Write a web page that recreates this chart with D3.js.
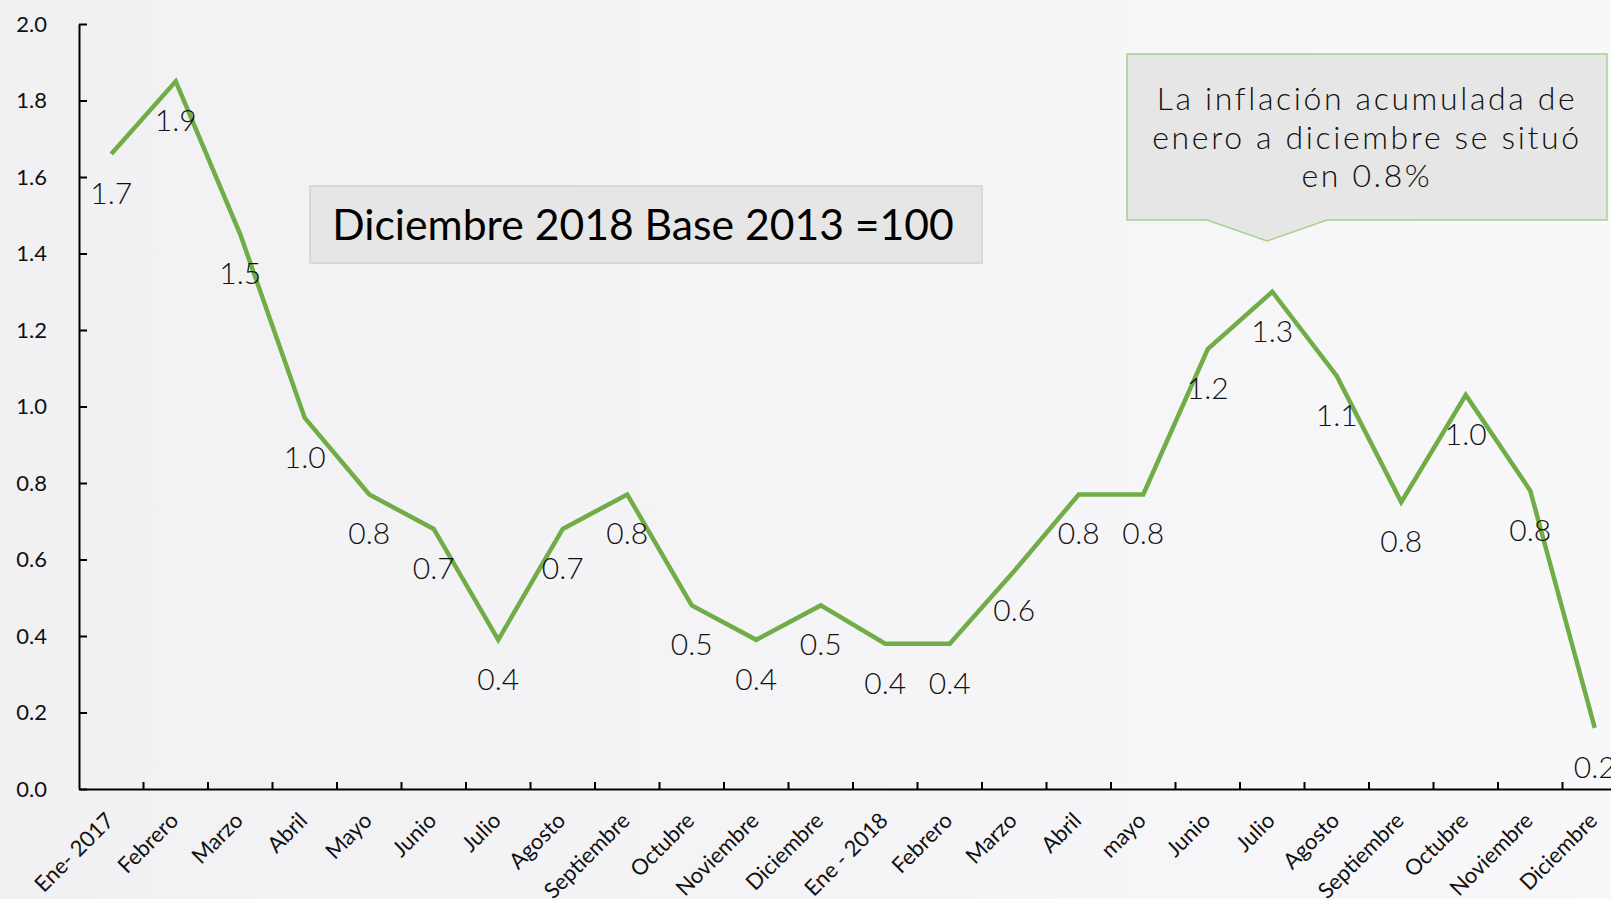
<!DOCTYPE html>
<html><head><meta charset="utf-8">
<script src="https://cdn.jsdelivr.net/npm/d3@7"></script>
<style>body{margin:0;background:#f3f3f5;overflow:hidden}</style>
</head><body><svg id="c" width="1611" height="899"></svg>
<script>
const categories = ["Ene- 2017","Febrero","Marzo","Abril","Mayo","Junio","Julio","Agosto","Septiembre","Octubre","Noviembre","Diciembre","Ene - 2018","Febrero","Marzo","Abril","mayo","Junio","Julio","Agosto","Septiembre","Octubre","Noviembre","Diciembre"];
const values = [1.66,1.85,1.45,0.97,0.77,0.68,0.39,0.68,0.77,0.48,0.39,0.48,0.38,0.38,0.57,0.77,0.77,1.15,1.30,1.08,0.75,1.03,0.78,0.16];
const dataLabels = ["1.7","1.9","1.5","1.0","0.8","0.7","0.4","0.7","0.8","0.5","0.4","0.5","0.4","0.4","0.6","0.8","0.8","1.2","1.3","1.1","0.8","1.0","0.8","0.2"];
const yTicks = [0,0.2,0.4,0.6,0.8,1.0,1.2,1.4,1.6,1.8,2.0];
const titleText = "Diciembre 2018 Base 2013 =100";
const calloutLines = ["La inflación acumulada de","enero a diciembre se situó","en 0.8%"];

const svg = d3.select("#c");
const defs = svg.append("defs");
const grad = defs.append("linearGradient").attr("id","bg").attr("x1","0").attr("x2","1").attr("y1","0").attr("y2","0");
grad.append("stop").attr("offset","0").attr("stop-color","#f1f1f3");
grad.append("stop").attr("offset","1").attr("stop-color","#f8f8fa");
svg.append("rect").attr("width",1611).attr("height",899).attr("fill","url(#bg)");

const idx = categories.map((d,i)=>i);
const x = d3.scaleBand().domain(idx).range([79, 79+24*64.5]).paddingInner(0).paddingOuter(0);
const y = d3.scaleLinear().domain([0,2]).range([789,24]);
const cx = i => x(i) + x.bandwidth()/2;

// Y axis
const ya = svg.append("g").attr("transform","translate(79,0)")
  .call(d3.axisLeft(y).tickValues(yTicks).tickFormat(d3.format(".1f")).tickSize(-8).tickSizeOuter(0).tickPadding(32));
ya.select(".domain").attr("stroke","#000").attr("stroke-width",2);
ya.selectAll(".tick line").attr("stroke","#000").attr("stroke-width",2);
ya.selectAll(".tick text").attr("font-family","Lato, 'Open Sans', sans-serif").attr("font-size",22).attr("fill","#111");

// X axis
const xa = svg.append("g").attr("transform","translate(0,789)")
  .call(d3.axisBottom(x).tickFormat(i=>categories[i]).tickSize(0).tickSizeOuter(0).tickPadding(0));
xa.select(".domain").attr("stroke","#000").attr("stroke-width",2);
xa.selectAll(".tick text")
  .attr("font-family","Lato, 'Open Sans', sans-serif").attr("font-size",22).attr("fill","#111")
  .attr("text-anchor","end").attr("dy",0).attr("y",0)
  .attr("transform","translate(4,33) rotate(-45)");
// boundary ticks
xa.selectAll(".btick").data(idx.slice(1).concat([24])).join("line").attr("class","btick")
  .attr("x1",i=> i<24 ? x(i) : x.range()[1]).attr("x2",i=> i<24 ? x(i) : x.range()[1])
  .attr("y1",0).attr("y2",-7).attr("stroke","#000").attr("stroke-width",2);

// Line
const line = d3.line().x((d,i)=>cx(i)).y(d=>y(d));
svg.append("path").datum(values).attr("d",line).attr("fill","none")
  .attr("stroke","#70ad47").attr("stroke-width",4.5).attr("stroke-linejoin","miter");

// Data labels
svg.append("g").selectAll("text").data(values).join("text")
  .attr("x",(d,i)=>cx(i)).attr("y",d=>y(d)+50)
  .attr("text-anchor","middle")
  .attr("font-family","Lato, 'Noto Sans', sans-serif").attr("font-weight",300)
  .attr("font-size",30).attr("fill","#111")
  .text((d,i)=>dataLabels[i]);

// Title box
svg.append("rect").attr("x",310).attr("y",186).attr("width",672).attr("height",77)
  .attr("fill","#e6e6e6").attr("stroke","#d2d2d2").attr("stroke-width",1.5);
const tt = svg.append("text").attr("x",643).attr("y",240).attr("text-anchor","middle")
  .attr("font-family","Lato, 'Open Sans', sans-serif").attr("font-size",44).attr("fill","#000").text(titleText);
{ const w = tt.node().getComputedTextLength(); tt.attr("font-size", 44*622/w); }

// Callout
const cp = d3.path();
cp.moveTo(1127,54); cp.lineTo(1607,54); cp.lineTo(1607,220); cp.lineTo(1327,220);
cp.lineTo(1267,241); cp.lineTo(1207,220); cp.lineTo(1127,220); cp.closePath();
svg.append("path").attr("d",cp.toString()).attr("fill","#e6e6e6").attr("stroke","#a9d18e").attr("stroke-width",1.5);
const cl = svg.append("g").selectAll("text").data(calloutLines).join("text")
  .attr("x",1367).attr("y",(d,i)=>110+i*38.5).attr("text-anchor","middle")
  .attr("font-family","Lato, 'Noto Sans', sans-serif").attr("font-weight",300)
  .attr("font-size",32).attr("fill","#111").text(d=>d);
{ const n = cl.nodes()[0]; const w = n.getComputedTextLength(); const ls = Math.max(0,(418-w)/(calloutLines[0].length-1)); cl.attr("letter-spacing", ls); }
</script></body></html>
